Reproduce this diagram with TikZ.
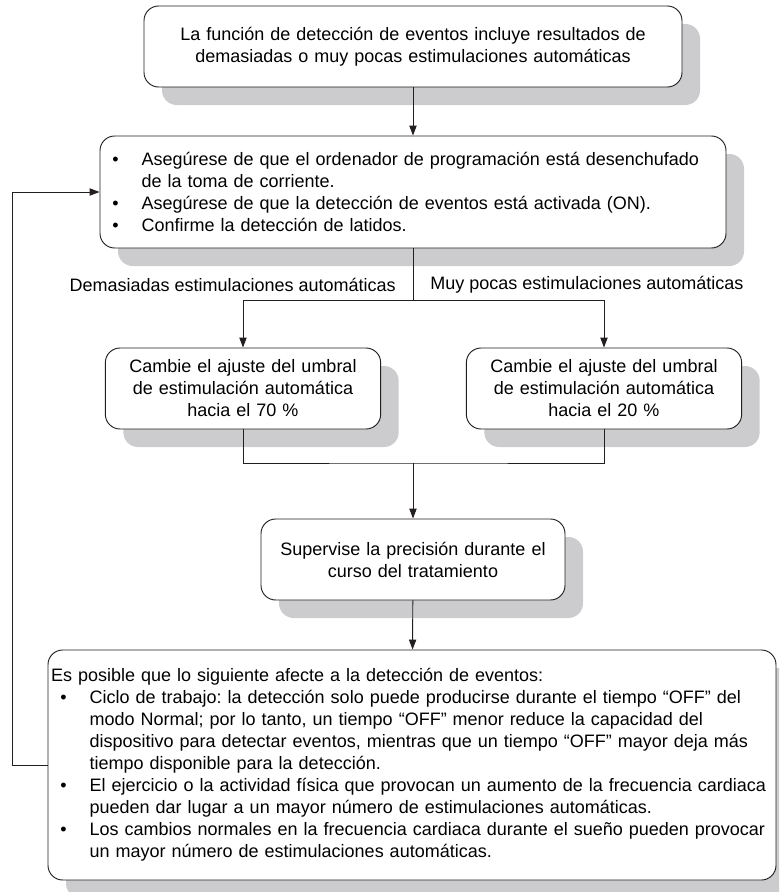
\documentclass[tikz,border=0pt]{standalone}
\usepackage{fontspec}
\setmainfont{Liberation Sans}
\usepackage{tikz}
\usetikzlibrary{arrows.meta, shadows}
\definecolor{shadecolor}{RGB}{204,204,206}
\definecolor{linecolor}{RGB}{35,31,32}
\newcommand{\bul}{\makebox[29pt][l]{\hspace{7pt}\textbullet}}
\newcommand{\ind}{\hspace*{29pt}}
\frenchspacing
\tikzset{
  stepbox/.style={draw=linecolor, line width=0.7pt, rounded corners=11pt,
                  fill=white, inner xsep=2.25pt, inner ysep=0pt, align=center,
                  drop shadow={shadow xshift=13.5pt, shadow yshift=-13.5pt,
                               fill=shadecolor, opacity=1}},
  listbox/.style={stepbox, align=left},
  arrow/.style={-{Triangle[length=7.5pt,width=5.5pt]}, line width=0.7pt, draw=linecolor},
  link/.style={line width=0.7pt, draw=linecolor},
}

\begin{document}
\begin{tikzpicture}[x=0.75pt, y=-0.75pt, font=\fontsize{13.5}{16.5}\selectfont]
  \useasboundingbox (0,0) rectangle (779,892);
  \clip (0,0) rectangle (779,892);

  % Boxes
  \node[stepbox, text width=399pt, minimum height=60.75pt] (start) at (413,46.5)
    {La función de detección de eventos incluye resultados de\\
     demasiadas o muy pocas estimulaciones automáticas};

  \node[listbox, text width=465pt, minimum height=84pt] (check) at (413,192)
    {\bul Asegúrese de que el ordenador de programación está desenchufado\\
     \ind de la toma de corriente.\\
     \bul Asegúrese de que la detección de eventos está activada (ON).\\
     \bul Confirme la detección de latidos.};

  \node[stepbox, text width=202pt, minimum height=60.75pt] (high) at (243,388.5)
    {Cambie el ajuste del umbral\\
     de estimulación automática\\
     hacia el 70 \%};

  \node[stepbox, text width=202pt, minimum height=60.75pt] (low) at (604,388.5)
    {Cambie el ajuste del umbral\\
     de estimulación automática\\
     hacia el 20 \%};

  \node[stepbox, text width=223.5pt, minimum height=60.75pt] (watch) at (413,559.5)
    {Supervise la precisión durante el\\
     curso del tratamiento};

  \node[listbox, text width=541.5pt, minimum height=172.5pt] (notes) at (412,765)
    {Es posible que lo siguiente afecte a la detección de eventos:\\
     \bul Ciclo de trabajo: la detección solo puede producirse durante el tiempo “OFF” del\\
     \ind modo Normal; por lo tanto, un tiempo “OFF” menor reduce la capacidad del\\
     \ind dispositivo para detectar eventos, mientras que un tiempo “OFF” mayor deja más\\
     \ind tiempo disponible para la detección.\\
     \bul El ejercicio o la actividad física que provocan un aumento de la frecuencia cardiaca\\
     \ind pueden dar lugar a un mayor número de estimulaciones automáticas.\\
     \bul Los cambios normales en la frecuencia cardiaca durante el sueño pueden provocar\\
     \ind un mayor número de estimulaciones automáticas.};

  % Branch labels
  \node[anchor=east, inner sep=0pt] (toomany) at (396,285)
    {Demasiadas estimulaciones automáticas};
  \node[anchor=west, inner sep=0pt] (toofew) at (430,285)
    {Muy pocas estimulaciones automáticas};

  % Connectors
  \coordinate (split) at (413,300);
  \coordinate (merge) at (413,463);
  \draw[arrow] (start) -- (check);
  \draw[link] (check) -- (split);
  \draw[arrow] (split) -| (high);
  \draw[arrow] (split) -| (low);
  \draw[link] (high) |- (merge) -| (low);
  \draw[arrow] (merge) -- (watch);
  \draw[arrow] (watch) -- (notes);
  \draw[arrow] (notes.west) -- ++(-35,0) |- (check.west);
\end{tikzpicture}
\end{document}
